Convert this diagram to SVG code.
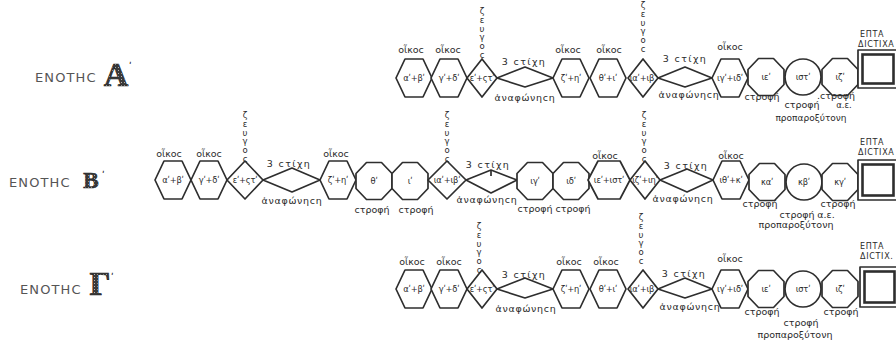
<svg xmlns="http://www.w3.org/2000/svg" xmlns:xlink="http://www.w3.org/1999/xlink" width="896" height="344" viewBox="0 0 896 344">
  <style>
    .s { fill: #fff; stroke: #2e2e2e; stroke-width: 1.7; stroke-linejoin: round; }
    .c { fill: none; stroke: #2e2e2e; stroke-width: 1.7; stroke-linejoin: round; }
    .t { font-family: "DejaVu Sans", "Noto Sans", sans-serif; fill: #2a2a2a; text-anchor: middle; font-size: 9.5px; }
    .i { font-size: 8.3px; letter-spacing: -0.2px; }
    .z { font-family: "DejaVu Sans", "Noto Sans", sans-serif; fill: #2a2a2a; font-size: 8.5px; writing-mode: vertical-rl; text-orientation: upright; letter-spacing: -1.2px; text-anchor: start; }
    .st { letter-spacing: 1.4px; }
    .an { letter-spacing: 0.7px; }
    .sm { font-size: 8.5px; }
    .pp { font-size: 9px; }
    .cap { font-size: 8px; letter-spacing: 0.7px; text-anchor: start; }
    .ttl { font-family: "DejaVu Sans", sans-serif; font-size: 13px; letter-spacing: 1.1px; fill: #555; }
    .big { font-family: "Liberation Serif", serif; font-weight: bold; fill: url(#grain); stroke: #222; stroke-width: 0.7; text-anchor: middle; }
    .pr { font-family: "DejaVu Sans", sans-serif; font-size: 9px; font-weight: bold; fill: #222; }
  </style>
  <defs>
    <polygon id="hx" points="-18,0 -9,-19 9,-19 18,0 9,19 -9,19"/>
    <polygon id="hxw" points="-21,0 -11,-19 11,-19 21,0 11,19 -11,19"/>
    <polygon id="oc" points="18,-7.5 7.5,-18.5 -7.5,-18.5 -18,-7.5 -18,7.5 -7.5,18.5 7.5,18.5 18,7.5"/>
    <pattern id="grain" width="3" height="3" patternUnits="userSpaceOnUse">
      <rect width="3" height="3" fill="#3a3a3a"/>
      <rect x="1" y="1" width="1" height="1" fill="#b5b5b5"/>
    </pattern>
  </defs>
  <rect width="896" height="344" fill="#fff"/>

  <!-- row titles -->
  <g id="title-a"><text class="ttl" x="35" y="82">ΕΝΟΤΗϹ</text><text class="big" x="116" y="86" font-size="34">Α</text><text class="pr" x="129" y="69">ʹ</text></g>
  <g id="title-b"><text class="ttl" x="9" y="187">ΕΝΟΤΗϹ</text><text class="big" x="91" y="188" font-size="23">Β</text><text class="pr" x="102" y="178">ʹ</text></g>
  <g id="title-c"><text class="ttl" x="20" y="294">ΕΝΟΤΗϹ</text><text class="big" x="100" y="295" font-size="33">Γ</text><text class="pr" x="111" y="280">ʹ</text></g>

  <!-- connectors: the flat lozenges joining the pairs -->
  <g id="connectors">
    <polygon class="c" points="497,78 525,67 553,78 525,87"/>
    <polygon class="c" points="658,78 685,67 712,78 685,87"/>
    <polygon class="c" points="263,180 292,168 320,180 292,192"/>
    <polygon class="c" points="466,180 491,170 517,180 491,193"/>
    <line class="c" x1="491" y1="170" x2="491" y2="176"/>
    <polygon class="c" points="660,180 687,169 713,180 687,192"/>
    <polygon class="c" points="497,289 525,278 553,289 525,298"/>
    <polygon class="c" points="658,289 685,278 712,289 685,298"/>
  </g>

  <!-- ===== row A ===== -->
  <g id="a1"><use href="#hx" x="414" y="78" class="s"/><text class="t i" x="414" y="81">αʹ+βʹ</text><text class="t" x="411" y="53">οἶκοϲ</text></g>
  <g id="a2"><use href="#hx" x="449" y="78" class="s"/><text class="t i" x="449" y="81">γʹ+δʹ</text><text class="t" x="448" y="53">οἶκοϲ</text></g>
  <g id="a3"><polygon class="s" points="467,78 482,59 497,78 482,97"/><text class="t i" x="482" y="81">εʹ+ςτʹ</text>
    <text class="z" x="482" y="6">ζευγοϲ</text></g>
  <g id="a-l1"><text class="t st" x="524" y="65">3 ϲτίχη</text><text class="t an" x="525" y="101">ἀναφώνηϲη</text></g>
  <g id="a4"><use href="#hx" x="571" y="78" class="s"/><text class="t i" x="571" y="81">ζʹ+ηʹ</text><text class="t" x="568" y="53">οἶκοϲ</text></g>
  <g id="a5"><use href="#hx" x="608" y="78" class="s"/><text class="t i" x="608" y="81">θʹ+ιʹ</text><text class="t" x="609" y="53">οἶκοϲ</text></g>
  <g id="a6"><polygon class="s" points="628,78 643,59 658,78 643,97"/><text class="t i" x="643" y="81">ιαʹ+ιβʹ</text>
    <text class="z" x="643" y="0">ζευγοϲ</text></g>
  <g id="a-l2"><text class="t st" x="685" y="62">3 ϲτίχη</text><text class="t an" x="689" y="98">ἀναφώνηϲη</text></g>
  <g id="a7"><use href="#hx" x="730" y="78" class="s"/><text class="t i" x="730" y="81">ιγʹ+ιδʹ</text><text class="t" x="730" y="50">οἶκοϲ</text></g>
  <g id="a8"><use href="#oc" x="766" y="77" class="s"/><text class="t i" x="766" y="80">ιεʹ</text><text class="t" x="762" y="100">ϲτροφή</text></g>
  <g id="a9"><circle cx="803" cy="77" r="18" class="s"/><text class="t i" x="803" y="80">ιστʹ</text><text class="t" x="802" y="108">ϲτροφή</text><text class="t sm" x="844" y="108">α.ε.</text><text class="t pp" x="811" y="121">προπαροξύτονη</text></g>
  <g id="a10"><use href="#oc" x="840" y="77" class="s"/><text class="t i" x="840" y="80">ιζʹ</text><text class="t" x="836" y="99">.ϲτροφή</text></g>
  <g id="a-box"><rect class="s" x="858" y="50" width="50" height="38"/><rect x="862.5" y="54.5" width="31" height="29" fill="#fff" stroke="#2e2e2e" stroke-width="2.6"/>
    <text class="t cap" x="860" y="37">ΕΠΤΑ</text><text class="t cap" x="858" y="47">ΔΙϹΤΙΧΑ</text></g>

  <!-- ===== row B ===== -->
  <g id="b1"><use href="#hx" x="173" y="180" class="s"/><text class="t i" x="173" y="183">αʹ+βʹ</text><text class="t" x="169" y="157">οἶκοϲ</text></g>
  <g id="b2"><use href="#hx" x="209" y="180" class="s"/><text class="t i" x="209" y="183">γʹ+δʹ</text><text class="t" x="209" y="157">οἶκοϲ</text></g>
  <g id="b3"><polygon class="s" points="227,180 245,161 263,180 245,199"/><text class="t i" x="245" y="183">εʹ+ςτʹ</text>
    <text class="z" x="245" y="110">ζευγοϲ</text></g>
  <g id="b-l1"><text class="t st" x="289" y="167">3 ϲτίχη</text><text class="t an" x="292" y="204">ἀναφώνηϲη</text></g>
  <g id="b4"><use href="#hx" x="338" y="180" class="s"/><text class="t i" x="338" y="183">ζʹ+ηʹ</text><text class="t" x="336" y="157">οἶκοϲ</text></g>
  <g id="b5"><use href="#oc" x="374" y="181" class="s"/><text class="t i" x="374" y="184">θʹ</text><text class="t" x="372" y="213">ϲτροφή</text></g>
  <g id="b6"><use href="#oc" x="410" y="181" class="s"/><text class="t i" x="410" y="184">ιʹ</text><text class="t" x="416" y="213">ϲτροφή</text></g>
  <g id="b7"><polygon class="s" points="428,180 447,161 466,180 447,199"/><text class="t i" x="447" y="183">ιαʹ+ιβʹ</text>
    <text class="z" x="447" y="110">ζευγοϲ</text></g>
  <g id="b-l2"><text class="t st" x="488" y="168">3 ϲτίχη</text><text class="t an" x="487" y="203">ἀναφώνηϲη</text></g>
  <g id="b8"><use href="#oc" x="535" y="181" class="s"/><text class="t i" x="535" y="184">ιγʹ</text><text class="t" x="535" y="212">ϲτροφή</text></g>
  <g id="b9"><use href="#oc" x="571" y="181" class="s"/><text class="t i" x="571" y="184">ιδʹ</text><text class="t" x="573" y="212">ϲτροφή</text></g>
  <g id="b10"><use href="#hxw" x="609" y="180" class="s"/><text class="t i" x="609" y="183">ιεʹ+ιστʹ</text><text class="t" x="605" y="159">οἶκοϲ</text></g>
  <g id="b11"><polygon class="s" points="630,180 645,161 660,180 645,199"/><text class="t i" x="645" y="183">ιζʹ+ιηʹ</text>
    <text class="z" x="644" y="110">ζευγοϲ</text></g>
  <g id="b-l3"><text class="t st" x="686" y="169">3 ϲτίχη</text><text class="t an" x="683" y="202">ἀναφώνηϲη</text></g>
  <g id="b12"><use href="#hx" x="731" y="180" class="s"/><text class="t i" x="731" y="183">ιθʹ+κʹ</text><text class="t" x="731" y="159">οἶκοϲ</text></g>
  <g id="b13"><use href="#oc" x="767" y="182" class="s"/><text class="t i" x="767" y="185">καʹ</text><text class="t" x="760" y="207">ϲτροφή</text></g>
  <g id="b14"><circle cx="804" cy="182" r="18" class="s"/><text class="t i" x="804" y="185">κβʹ</text><text class="t" x="797" y="218">ϲτροφή</text><text class="t" x="826" y="218">α.ε.</text><text class="t" x="796" y="228">προπαροξύτονη</text></g>
  <g id="b15"><use href="#oc" x="840" y="182" class="s"/><text class="t i" x="840" y="185">κγʹ</text><text class="t" x="838" y="207">ϲτροφή</text></g>
  <g id="b-box"><rect class="s" x="858" y="160" width="50" height="40"/><rect x="862.5" y="164.5" width="31" height="31" fill="#fff" stroke="#2e2e2e" stroke-width="2.6"/>
    <text class="t cap" x="860" y="145">ΕΠΤΑ</text><text class="t cap" x="858" y="155">ΔΙϹΤΙΧΑ</text></g>

  <!-- ===== row C ===== -->
  <g id="c1"><use href="#hx" x="414" y="289" class="s"/><text class="t i" x="414" y="292">αʹ+βʹ</text><text class="t" x="412" y="265">οἶκοϲ</text></g>
  <g id="c2"><use href="#hx" x="449" y="289" class="s"/><text class="t i" x="449" y="292">γʹ+δʹ</text><text class="t" x="449" y="265">οἶκοϲ</text></g>
  <g id="c3"><polygon class="s" points="467,289 482,270 497,289 482,308"/><text class="t i" x="482" y="292">εʹ+ςτʹ</text>
    <text class="z" x="479" y="221">ζευγοϲ</text></g>
  <g id="c-l1"><text class="t st" x="524" y="278">3 ϲτίχη</text><text class="t an" x="526" y="312">ἀναφώνηϲη</text></g>
  <g id="c4"><use href="#hx" x="571" y="289" class="s"/><text class="t i" x="571" y="292">ζʹ+ηʹ</text><text class="t" x="569" y="265">οἶκοϲ</text></g>
  <g id="c5"><use href="#hx" x="608" y="289" class="s"/><text class="t i" x="608" y="292">θʹ+ιʹ</text><text class="t" x="606" y="265">οἶκοϲ</text></g>
  <g id="c6"><polygon class="s" points="628,289 643,270 658,289 643,308"/><text class="t i" x="643" y="292">ιαʹ+ιβʹ</text>
    <text class="z" x="641" y="212">ζευγοϲ</text></g>
  <g id="c-l2"><text class="t st" x="684" y="277">3 ϲτίχη</text><text class="t an" x="690" y="310">ἀναφώνηϲη</text></g>
  <g id="c7"><use href="#hx" x="730" y="289" class="s"/><text class="t i" x="730" y="292">ιγʹ+ιδʹ</text><text class="t" x="730" y="262">οἶκοϲ</text></g>
  <g id="c8"><use href="#oc" x="766" y="289" class="s"/><text class="t i" x="766" y="292">ιεʹ</text><text class="t" x="762" y="315">ϲτροφή</text></g>
  <g id="c9"><circle cx="803" cy="289" r="18" class="s"/><text class="t i" x="803" y="292">ιστʹ</text><text class="t" x="801" y="326">ϲτροφή</text><text class="t" x="795" y="338">προπαροξύτονη</text></g>
  <g id="c10"><use href="#oc" x="840" y="289" class="s"/><text class="t i" x="840" y="292">ιζʹ</text><text class="t" x="841" y="315">ϲτροφή</text></g>
  <g id="c-box"><rect class="s" x="860" y="267" width="50" height="40"/><rect x="864.5" y="271.5" width="30" height="31" fill="#fff" stroke="#2e2e2e" stroke-width="2.6"/>
    <text class="t cap" x="860" y="249">ΕΠΤΑ</text><text class="t cap" x="860" y="259">ΔΙϹΤΙΧ.</text></g>
</svg>
